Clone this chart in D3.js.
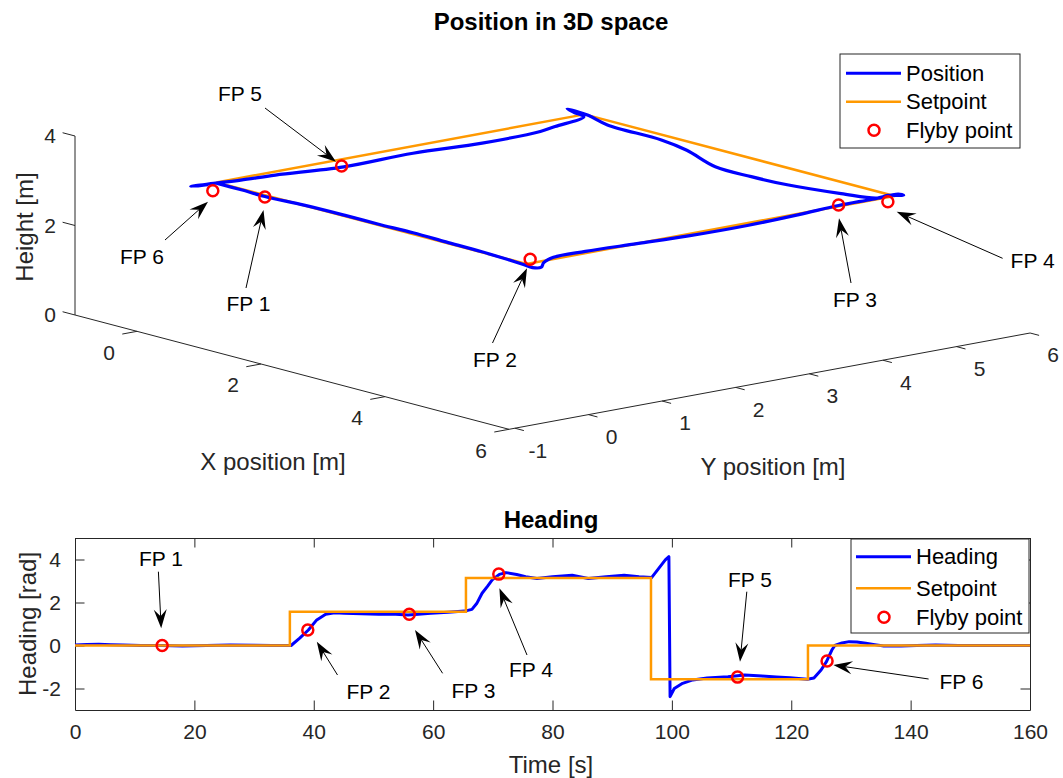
<!DOCTYPE html>
<html><head><meta charset="utf-8">
<script src="https://cdn.jsdelivr.net/npm/d3@7"></script>
<style>
body{margin:0;background:#fff}
svg{display:block}
text{font-family:"Liberation Sans",Arial,Helvetica,sans-serif}
</style>
</head><body>
<svg id="c" width="1063" height="778"></svg>
<script>
// ---------------- DATA ----------------
// 3D position trajectory (m)
const posX = [0.00,0.40,0.78,1.40,2.06,2.60,3.17,3.70,4.28,4.70,4.95,5.12,5.18,5.10,5.02,5.00,5.00,5.00,5.00,5.00,5.00,5.00,5.00,5.03,4.98,4.85,4.72,4.14,3.27,2.69,2.11,1.65,1.24,0.37,0.06,-0.28,-0.15,0.05,0.00,0.00,0.00,0.00,0.00,0.00,0.00,0.00,0.00,0.00,0.00,0.00];
const posY = [0,0,0,0.01,0,0,0,0,0,0,0,-0.02,0.05,0.15,0.35,0.80,1.50,2.20,3.00,3.70,4.24,4.70,5.05,5.10,5.08,5.03,5.0,5.0,5.0,5.0,5.0,5.0,5.0,5.0,5.0,5.0,4.98,4.95,4.60,4.40,3.61,2.67,1.73,0.80,0.33,-0.04,-0.35,-0.25,-0.10,-0.20];
const posZ = [2.98,2.98,2.97,3.00,3.02,3.02,3.03,3.02,3.01,2.99,2.97,2.97,2.98,3.02,3.05,3.04,3.00,2.96,2.95,2.98,3.02,3.02,3.03,3.00,2.98,2.95,2.85,2.74,2.62,2.59,2.60,2.80,2.88,2.90,3.00,3.02,3.00,2.98,2.85,2.80,2.78,2.84,2.82,2.92,2.95,2.99,3.02,3.00,2.98,3.00];
// 3D setpoint
const setX = [0,5,5,0,0];
const setY = [0,0,5,5,0];
const setZ = [3,3,3,3,3];
// Flyby points
const fpNames = ["FP 1","FP 2","FP 3","FP 4","FP 5","FP 6"];
const fpX = [0.78,5.00,5.00,5.00,0.00,0.00];
const fpY = [0.00,0.05,4.24,4.91,1.70,-0.05];
const fpZ = [2.96,3.09,3.03,2.90,2.85,2.83];
// 3D axis ticks
const xTicks3 = [0,2,4,6];
const yTicks3 = [-1,0,1,2,3,4,5,6];
const zTicks3 = [0,2,4];

// Heading (rad) vs time (s)
const hdT = [0,2,4,6,8,11,14.6,18,22,26,30,33,35.8,36.2,37.6,39.1,40.5,42,43.5,45.1,48,50.9,53,55.8,57.5,59.6,62.5,65.3,66.5,67.3,68.2,69.1,69.9,71.1,72.2,74,75.5,77.4,80,83.3,86,89,92,94.5,96.6,97.8,98.9,99.5,99.7,100.4,101.8,103.5,105.9,109.4,112.2,115.1,117.5,119.8,122.7,123.8,125,125.9,126.8,127.3,128.5,129.7,131,132.5,134,135.5,138.4,141,144.2,148,152,156,160];
const hdV = [0.02,0.05,0.06,0.04,0.02,0.0,0.0,-0.02,0.0,0.02,0.01,0.0,0.0,0.0,0.33,0.72,1.19,1.45,1.52,1.5,1.48,1.45,1.46,1.42,1.45,1.5,1.55,1.6,1.68,1.95,2.43,2.75,3.05,3.31,3.39,3.3,3.2,3.12,3.2,3.27,3.12,3.2,3.27,3.2,3.16,3.59,3.98,4.13,-2.38,-2.0,-1.76,-1.6,-1.51,-1.45,-1.37,-1.42,-1.46,-1.5,-1.57,-1.51,-1.14,-0.75,-0.21,0.0,0.12,0.18,0.16,0.1,0.04,-0.02,-0.02,0.0,0.02,0.0,0.0,0.0,0.0];
const hsT = [0,36,36,65.5,65.5,96.5,96.5,122.8,122.8,160];
const hsV = [0,0,1.5708,1.5708,3.1416,3.1416,-1.5708,-1.5708,0,0];
const fpT = [14.6,39,56,71,111,126];
const fpH = [0.0,0.72,1.45,3.32,-1.47,-0.72];
const tTicks = [0,20,40,60,80,100,120,140,160];
const hTicks = [-2,0,2,4];

// ---------------- LAYOUT ----------------
const INK="#262626", BLUE="#0000ff", ORANGE="#ff9900", RED="#ff0000";
const svg = d3.select("#c");
const FT=21, FL=24, FLEG=22, FA=21;

function arrow(g, x1,y1,x2,y2){
  const dx=x2-x1, dy=y2-y1, L=Math.hypot(dx,dy), ux=dx/L, uy=dy/L, nx=-uy, ny=ux;
  const HL=19, HW=6.5, NOT=12;
  g.append("line").attr("x1",x1).attr("y1",y1).attr("x2",x2-NOT*ux).attr("y2",y2-NOT*uy)
    .attr("stroke","#000").attr("stroke-width",1);
  const pts=[[x2,y2],[x2-HL*ux+HW*nx,y2-HL*uy+HW*ny],[x2-NOT*ux,y2-NOT*uy],[x2-HL*ux-HW*nx,y2-HL*uy-HW*ny]];
  g.append("path").attr("d","M"+pts.map(p=>p.join(",")).join("L")+"Z").attr("fill","#000");
}
function label(g,x,y,t,size,opts={}){
  const e=g.append("text").attr("x",x).attr("y",y).attr("dy","0.35em")
    .attr("text-anchor",opts.anchor||"middle").attr("font-size",size)
    .attr("fill",opts.fill||INK).text(t);
  if(opts.bold) e.attr("font-weight","bold");
  if(opts.rot) e.attr("transform",`rotate(${opts.rot},${x},${y})`);
  return e;
}

// ---------------- 3D PLOT ----------------
const g3 = svg.append("g");
const O=[75,315];
const xs=d3.scaleLinear().domain([-1,6]).range([0,1]);
const ys=d3.scaleLinear().domain([-1.08,6]).range([0,1]);
const zs=d3.scaleLinear().domain([0,4]).range([0,1]);
const VX=[434,114.3], VY=[521.1,-96.3], VZ=[0,-179];
function proj(x,y,z){const a=xs(x),b=ys(y),c=zs(z);
  return [O[0]+a*VX[0]+b*VY[0]+c*VZ[0], O[1]+a*VX[1]+b*VY[1]+c*VZ[1]];}
const X0=xs.domain()[0], X1=xs.domain()[1], Y0=ys.domain()[0], Y1=ys.domain()[1], Z1=zs.domain()[1];
const seg=(a,b)=>g3.append("line").attr("x1",a[0]).attr("y1",a[1]).attr("x2",b[0]).attr("y2",b[1]).attr("stroke",INK).attr("stroke-width",1);
seg(proj(X0,Y0,0),proj(X1,Y0,0));
seg(proj(X1,Y0,0),proj(X1,Y1,0));
seg(proj(X0,Y0,0),proj(X0,Y0,Z1));
xTicks3.forEach(v=>{const a=proj(v,Y0,0), b=proj(v,Y0-0.2,0); seg(a,b);
  label(g3,a[0]-28,a[1]+21,String(v),FT);});
yTicks3.forEach(v=>{const a=proj(X1,v,0), b=proj(X1+0.145,v,0); seg(a,b);
  label(g3,a[0]+23,a[1]+22,String(v),FT);});
zTicks3.forEach(v=>{const a=proj(X0,Y0,v), b=proj(X0-0.2,Y0,v); seg(a,b);
  label(g3,a[0]-19,a[1],String(v),FT,{anchor:"end"});});
label(g3,273,462,"X position [m]",FL);
label(g3,773,467,"Y position [m]",FL);
label(g3,25,227,"Height [m]",FL,{rot:-90});
label(g3,551,22,"Position in 3D space",FL,{bold:true,fill:"#000"});

const line3 = d3.line().x(d=>d[0]).y(d=>d[1]);
const setPts = setX.map((x,i)=>proj(x,setY[i],setZ[i]));
const posPts = posX.map((x,i)=>proj(x,posY[i],posZ[i]));
g3.append("path").attr("d",line3(setPts)).attr("fill","none").attr("stroke",ORANGE).attr("stroke-width",2.5).attr("stroke-linejoin","round");
g3.append("path").attr("d",d3.line().curve(d3.curveCatmullRom.alpha(0.5))(posPts)).attr("fill","none").attr("stroke",BLUE).attr("stroke-width",3.2).attr("stroke-linejoin","round").attr("stroke-linecap","round");
fpX.forEach((x,i)=>{const p=proj(x,fpY[i],fpZ[i]);
  g3.append("circle").attr("cx",p[0]).attr("cy",p[1]).attr("r",5.5).attr("fill","none").attr("stroke",RED).attr("stroke-width",2.5);});

// annotations 3D: [label index, tailX, tailY, tipX, tipY, textX, textY]
const ann3 = [[4,265,108,336,161.7,240,94],[5,165,240,208,201.7,142,257],[0,246,288,263.5,210,248.5,304],
              [1,492.5,343,527,268.3,495,360],[2,851,283,839,218.3,855,300],[3,1002.6,258.3,896.7,211.7,1032.6,261]];
ann3.forEach(a=>{arrow(g3,a[1],a[2],a[3],a[4]); label(g3,a[5],a[6],fpNames[a[0]],FA,{fill:"#000"});});

// legend
function legend(g,x0,y0,x1,y1,names,ys_,lx0,lx1,tx,mx){
  g.append("rect").attr("x",x0).attr("y",y0).attr("width",x1-x0).attr("height",y1-y0).attr("fill","#fff").attr("stroke",INK).attr("stroke-width",1);
  g.append("line").attr("x1",lx0).attr("x2",lx1).attr("y1",ys_[0]).attr("y2",ys_[0]).attr("stroke",BLUE).attr("stroke-width",3);
  g.append("line").attr("x1",lx0).attr("x2",lx1).attr("y1",ys_[1]).attr("y2",ys_[1]).attr("stroke",ORANGE).attr("stroke-width",2.5);
  g.append("circle").attr("cx",mx).attr("cy",ys_[2]).attr("r",5.5).attr("fill","none").attr("stroke",RED).attr("stroke-width",2.5);
  names.forEach((n,i)=>label(g,tx,ys_[i],n,FLEG,{anchor:"start",fill:"#000"}));
}
legend(g3,840,54,1020,148,["Position","Setpoint","Flyby point"],[73.3,101.7,130.3],846,901,906,874);

// ---------------- HEADING PLOT ----------------
const gh = svg.append("g");
const tx = d3.scaleLinear().domain([0,160]).range([75,1030]);
const hy = d3.scaleLinear().domain([-3,5]).range([710,538]);
const TK=9.5;
const axB = gh.append("g").attr("transform","translate(0,710)").call(d3.axisBottom(tx).tickValues(tTicks).tickSize(-TK).tickPadding(14).tickSizeOuter(0));
const axT = gh.append("g").attr("transform","translate(0,538)").call(d3.axisTop(tx).tickValues(tTicks).tickSize(-TK).tickFormat("").tickSizeOuter(0));
const axL = gh.append("g").attr("transform","translate(75,0)").call(d3.axisLeft(hy).tickValues(hTicks).tickSize(-TK).tickPadding(14).tickSizeOuter(0));
const axR = gh.append("g").attr("transform","translate(1030,0)").call(d3.axisRight(hy).tickValues(hTicks).tickSize(-TK).tickFormat("").tickSizeOuter(0));
[axB,axT,axL,axR].forEach(a=>{a.selectAll("path,line").attr("stroke",INK).attr("stroke-width",1);
  a.selectAll("text").attr("font-size",FT).attr("fill",INK).attr("font-family","Liberation Sans, Arial, sans-serif");});
axL.selectAll("text").text(d=>d<0?"-"+Math.abs(d):d);

const lineH = d3.line().x(d=>tx(d[0])).y(d=>hy(d[1]));
gh.append("path").attr("d",lineH(hdT.map((t,i)=>[t,hdV[i]]))).attr("fill","none").attr("stroke",BLUE).attr("stroke-width",3).attr("stroke-linejoin","round");
gh.append("path").attr("d",lineH(hsT.map((t,i)=>[t,hsV[i]]))).attr("fill","none").attr("stroke",ORANGE).attr("stroke-width",2.5);
fpT.forEach((t,i)=>gh.append("circle").attr("cx",tx(t)).attr("cy",hy(fpH[i])).attr("r",5.5).attr("fill","none").attr("stroke",RED).attr("stroke-width",2.5));

label(gh,551,520,"Heading",FL,{bold:true,fill:"#000"});
label(gh,551,765,"Time [s]",FL);
label(gh,28,624,"Heading [rad]",FL,{rot:-90});

const annH = [[0,158.4,571.7,161.2,628.3,161,559],[1,337.5,675,316.8,641.7,368.5,691.7],[2,442.6,673.3,415,630,473.5,690.7],
              [3,527,655,499.4,588.3,531,670],[4,746.8,591.7,740,661.7,750,580],[5,928.6,679,833.4,665,961.5,681.7]];
annH.forEach(a=>{arrow(gh,a[1],a[2],a[3],a[4]); label(gh,a[5],a[6],fpNames[a[0]],FA,{fill:"#000"});});

legend(gh,851,539,1029,633,["Heading","Setpoint","Flyby point"],[556.7,588.3,617.3],856,911,916,884);
</script>
</body></html>
